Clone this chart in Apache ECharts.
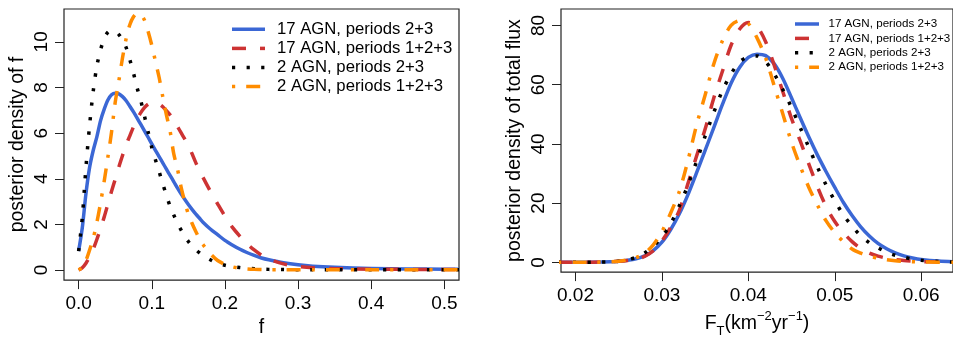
<!DOCTYPE html>
<html><head><meta charset="utf-8">
<script src="https://cdn.jsdelivr.net/npm/echarts@6/dist/echarts.min.js"></script>
<style>html,body{margin:0;padding:0;background:#fff}#c{width:953px;height:343px}</style>
</head><body><div id="c"></div>
<script>
// ---------- Left panel: posterior density of f ----------
const fGrid = [0, 0.005, 0.01, 0.015, 0.02, 0.025, 0.03, 0.035, 0.04, 0.045, 0.05, 0.055, 0.06, 0.065, 0.07, 0.075, 0.08, 0.085, 0.09, 0.095, 0.1, 0.105, 0.11, 0.115, 0.12, 0.125, 0.13, 0.135, 0.14, 0.145, 0.15, 0.155, 0.16, 0.165, 0.17, 0.18, 0.19, 0.2, 0.21, 0.22, 0.23, 0.24, 0.25, 0.26, 0.28, 0.3, 0.32, 0.35, 0.4, 0.45, 0.5, 0.52];
const fAgn17p23 = [0.83, 1.85, 3.35, 4.5, 5.25, 5.85, 6.55, 7.05, 7.45, 7.68, 7.75, 7.72, 7.6, 7.42, 7.18, 6.93, 6.66, 6.38, 6.1, 5.82, 5.53, 5.25, 4.97, 4.7, 4.42, 4.15, 3.88, 3.6, 3.34, 3.1, 2.87, 2.66, 2.46, 2.28, 2.1, 1.8, 1.55, 1.3, 1.1, 0.92, 0.77, 0.64, 0.53, 0.45, 0.32, 0.23, 0.17, 0.12, 0.07, 0.05, 0.04, 0.035];
const fAgn17p123 = [0.0, 0.1, 0.3, 0.58, 0.92, 1.35, 1.83, 2.33, 2.89, 3.45, 3.98, 4.52, 5.02, 5.5, 5.88, 6.28, 6.62, 6.9, 7.12, 7.27, 7.33, 7.34, 7.28, 7.16, 6.98, 6.8, 6.58, 6.3, 6.02, 5.75, 5.48, 5.1, 4.72, 4.38, 4.06, 3.46, 2.9, 2.36, 1.88, 1.5, 1.16, 0.88, 0.65, 0.48, 0.27, 0.16, 0.1, 0.06, 0.04, 0.03, 0.02, 0.02];
const fAgn2p23 = [0.83, 2.3, 4.5, 6.35, 7.85, 8.95, 9.65, 10.15, 10.42, 10.5, 10.46, 10.32, 10.08, 9.75, 9.22, 8.63, 7.98, 7.42, 6.75, 6.05, 5.37, 4.83, 4.32, 3.78, 3.28, 2.8, 2.42, 2.05, 1.76, 1.48, 1.25, 1.06, 0.9, 0.76, 0.64, 0.45, 0.3, 0.21, 0.15, 0.11, 0.08, 0.06, 0.04, 0.03, 0.02, 0.01, 0.01, 0.01, 0.01, 0.01, 0.01, 0.01];
const fAgn2p123 = [0.0, 0.12, 0.42, 0.88, 1.4, 2.1, 2.95, 3.9, 4.95, 6.05, 7.35, 8.3, 9.3, 10.15, 10.75, 11.1, 11.25, 11.2, 10.95, 10.45, 9.85, 9.15, 8.45, 7.6, 6.8, 6.1, 5.1, 4.45, 3.65, 3.0, 2.45, 2.05, 1.7, 1.38, 1.12, 0.72, 0.42, 0.25, 0.14, 0.08, 0.05, 0.03, 0.02, 0.01, 0.01, 0.01, 0.01, 0.01, 0.01, 0.01, 0.01, 0.01];

// ---------- Right panel: posterior density of total flux ----------
const FGrid = [0.018, 0.02, 0.022, 0.024, 0.025, 0.026, 0.027, 0.028, 0.029, 0.03, 0.031, 0.032, 0.033, 0.034, 0.035, 0.036, 0.037, 0.038, 0.039, 0.04, 0.041, 0.042, 0.043, 0.044, 0.045, 0.046, 0.047, 0.048, 0.049, 0.05, 0.051, 0.052, 0.053, 0.054, 0.055, 0.056, 0.057, 0.058, 0.059, 0.06, 0.062, 0.064];
const FAgn17p23 = [0, 0.01, 0.05, 0.2, 0.4, 0.7, 1.2, 2.2, 4.0, 6.8, 11.0, 16.3, 22.8, 30.2, 37.8, 45.5, 53.3, 60.5, 65.9, 69.2, 70.3, 69.8, 67.0, 62.0, 55.5, 48.8, 42.3, 36.2, 30.6, 25.3, 20.2, 15.8, 12.0, 8.9, 6.4, 4.6, 3.2, 2.2, 1.5, 1.0, 0.45, 0.2];
const FAgn17p123 = [0, 0.01, 0.05, 0.2, 0.35, 0.6, 1.0, 2.0, 3.9, 7.2, 11.8, 17.5, 26.5, 35.8, 45.0, 55.5, 64.5, 73.3, 78.8, 81.0, 79.6, 74.5, 66.5, 57.5, 48.5, 41.0, 33.2, 25.5, 18.8, 13.8, 10.0, 7.0, 4.7, 3.1, 2.1, 1.4, 0.9, 0.6, 0.4, 0.25, 0.1, 0.05];
const FAgn2p23 = [0, 0.01, 0.05, 0.15, 0.4, 0.9, 1.7, 3.2, 5.4, 8.6, 13.0, 19.0, 26.0, 34.0, 42.6, 50.6, 58.0, 63.6, 67.7, 69.4, 69.7, 67.7, 63.6, 58.3, 52.2, 45.5, 38.8, 32.1, 26.1, 20.8, 16.0, 12.2, 9.0, 6.6, 4.9, 3.4, 2.4, 1.7, 1.1, 0.7, 0.3, 0.1];
const FAgn2p123 = [0, 0.01, 0.05, 0.15, 0.35, 0.8, 1.6, 3.1, 5.9, 10.4, 16.6, 23.8, 34.3, 46.3, 56.5, 67.0, 74.8, 80.0, 81.6, 80.6, 75.8, 69.0, 59.5, 50.0, 40.5, 32.5, 25.3, 19.3, 14.0, 10.0, 7.0, 4.5, 3.1, 2.1, 1.4, 0.9, 0.55, 0.35, 0.2, 0.12, 0.05, 0.02];

const seriesNames = ['17 AGN, periods 2+3', '17 AGN, periods 1+2+3', '2 AGN, periods 2+3', '2 AGN, periods 1+2+3'];
const leftXTicks = [0, 0.1, 0.2, 0.3, 0.4, 0.5];
const leftYTicks = [0, 2, 4, 6, 8, 10];
const rightXTicks = [0.02, 0.03, 0.04, 0.05, 0.06];
const rightYTicks = [0, 20, 40, 60, 80];

const FONT = '"Liberation Sans", Arial, Helvetica, sans-serif';
const colors = ['#3b67d5', '#cd3333', '#000000', '#ff8c00'];
const LW = 3.5;
const dashes = ['solid', [14, 14], [3.2, 11.4], [3.2, 11, 14, 11]];
const dashArr = [null, [14, 14], [3.2, 11.4], [3.2, 11, 14, 11]];

function pairs(xs, ys) { return xs.map((x, i) => [x, ys[i]]); }

const leftSets = [fAgn17p23, fAgn17p123, fAgn2p23, fAgn2p123];
const rightSets = [FAgn17p23, FAgn17p123, FAgn2p23, FAgn2p123];

const series = [];
leftSets.forEach((ys, i) => series.push({
  type: 'line', name: seriesNames[i], xAxisIndex: 0, yAxisIndex: 0,
  data: pairs(fGrid, ys), showSymbol: false, smooth: 0.3, clip: true,
  lineStyle: { color: colors[i], width: LW, type: dashes[i], cap: 'butt', join: 'round' }
}));
rightSets.forEach((ys, i) => series.push({
  type: 'line', name: seriesNames[i] + ' ', xAxisIndex: 1, yAxisIndex: 1,
  data: pairs(FGrid, ys), showSymbol: false, smooth: 0.3, clip: true,
  lineStyle: { color: colors[i], width: LW, type: dashes[i], cap: 'butt', join: 'round' }
}));

function xAx(gi, min, max, ticks, dec, name, richName) {
  return {
    type: 'value', gridIndex: gi, min: min, max: max,
    axisLine: { show: false, onZero: false }, splitLine: { show: false },
    axisTick: { show: true, inside: false, length: 9, customValues: ticks, lineStyle: { color: '#222', width: 1 } },
    axisLabel: { customValues: ticks, formatter: v => v.toFixed(dec), margin: 14, color: '#000', fontSize: 19, fontFamily: FONT },
    name: name, nameLocation: 'middle', nameGap: 36,
    nameTextStyle: Object.assign({ color: '#000', fontSize: 19.5, fontFamily: FONT }, richName || {})
  };
}
function yAx(gi, min, max, ticks, name) {
  return {
    type: 'value', gridIndex: gi, min: min, max: max,
    axisLine: { show: false, onZero: false }, splitLine: { show: false },
    axisTick: { show: true, inside: false, length: 9, customValues: ticks, lineStyle: { color: '#222', width: 1 } },
    axisLabel: { customValues: ticks, rotate: 90, margin: 13, color: '#000', fontSize: 19, fontFamily: FONT },
    name: name, nameLocation: 'middle', nameGap: 36,
    nameTextStyle: { color: '#000', fontSize: 19.5, fontFamily: FONT }
  };
}

const richX = {
  rich: {
    m: { fontSize: 19.5, fontFamily: FONT, color: '#000', lineHeight: 28 },
    sub: { fontSize: 13, fontFamily: FONT, color: '#000', verticalAlign: 'bottom', lineHeight: 28 },
    sup: { fontSize: 13, fontFamily: FONT, color: '#000', verticalAlign: 'top', lineHeight: 28 }
  }
};

const graphics = [];
function legend(x1, x2, tx, y0, dy, fs) {
  seriesNames.forEach((n, i) => {
    const y = y0 + i * dy;
    const st = { stroke: colors[i], lineWidth: LW, lineCap: 'butt' };
    if (dashArr[i]) st.lineDash = dashArr[i];
    graphics.push({ type: 'line', shape: { x1: x1, y1: y, x2: x2, y2: y }, style: st, silent: true });
    graphics.push({ type: 'text', x: tx, y: y, style: { text: n, fontSize: fs, fontFamily: FONT, fill: '#000', verticalAlign: 'middle', align: 'left' }, silent: true });
  });
}
legend(232, 265, 277, 29.3, 19.1, 16.7);
legend(795, 819, 828.5, 24, 14.4, 11.6);

const chart = echarts.init(document.getElementById('c'), null, { renderer: 'canvas' });
chart.setOption({
  animation: false,
  backgroundColor: '#fff',
  grid: [
    { left: 64, top: 9, width: 395, height: 275, show: true, borderColor: '#222', borderWidth: 1.2, backgroundColor: 'transparent', containLabel: false },
    { left: 561, top: 9, width: 395, height: 275, show: true, borderColor: '#222', borderWidth: 1.2, backgroundColor: 'transparent', containLabel: false }
  ],
  xAxis: [
    xAx(0, -0.02, 0.52, leftXTicks, 1, 'f'),
    xAx(1, 0.01832, 0.06368, rightXTicks, 2, '{m|F}{sub|T}{m|(km}{sup|−2}{m|yr}{sup|−1}{m|)}', richX)
  ],
  yAxis: [
    yAx(0, -0.44, 11.44, leftYTicks, 'posterior density of f'),
    yAx(1, -3.29, 85.54, rightYTicks, 'posterior density of total flux')
  ],
  series: series,
  graphic: graphics
});
</script>
</body></html>
